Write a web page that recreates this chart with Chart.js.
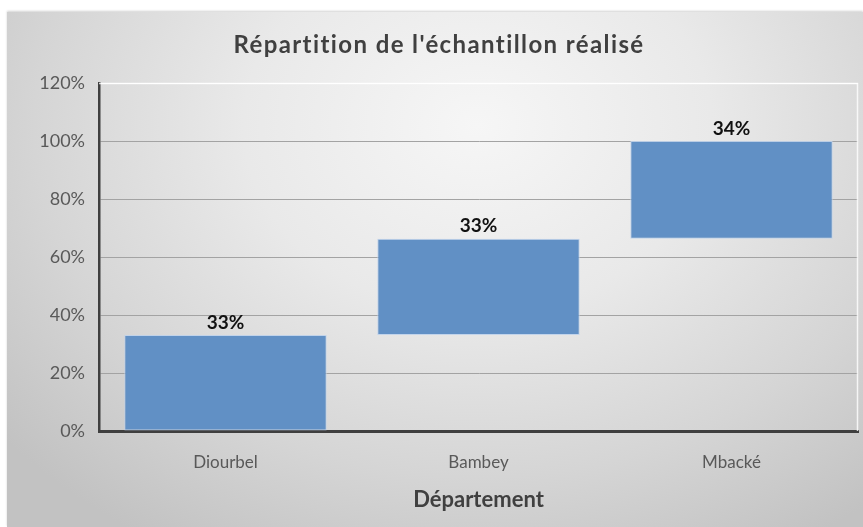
<!DOCTYPE html>
<html>
<head>
<meta charset="utf-8">
<script src="https://cdn.jsdelivr.net/npm/chart.js@4/dist/chart.umd.min.js"></script>
<style>
  html, body { margin: 0; padding: 0; background: #ffffff; width: 863px; height: 527px; overflow: hidden; }
  #wrap {
    position: absolute; left: 7px; top: 12px; width: 856px; height: 515px;
    background: radial-gradient(ellipse 72% 95% at 55% 22%, #f6f6f6 0%, #e9e9e9 38%, #d5d5d5 72%, #c2c2c2 100%);
    box-shadow: 0 -1px 2px rgba(0,0,0,0.18);
  }
  canvas { display: block; }
</style>
</head>
<body>
<div id="wrap"><canvas id="c" width="856" height="515"></canvas></div>
<script>
// Data
const categories = ["Diourbel", "Bambey", "Mbacké"];
const shares = [33.1, 33.2, 33.7];          // % of the sample per département
const yTicks = [0, 20, 40, 60, 80, 100, 120];
const chartTitle = "Répartition de l'échantillon réalisé";
const xTitle = "Département";

// Build floating (waterfall) ranges from the shares
const ranges = [];
let acc = 0;
for (const s of shares) { ranges.push([acc, acc + s]); acc += s; }

const FONT = "Lato, 'Open Sans', 'Liberation Sans', sans-serif";

const dataLabels = {
  id: 'dataLabels',
  afterDatasetsDraw(chart) {
    const ctx = chart.ctx;
    const meta = chart.getDatasetMeta(0);
    ctx.save();
    ctx.font = "bold 19px " + FONT;
    ctx.fillStyle = "#111111";
    ctx.textAlign = "center";
    ctx.textBaseline = "bottom";
    meta.data.forEach((bar, i) => {
      const top = Math.min(bar.y, bar.base);
      ctx.fillText(Math.round(shares[i]) + "%", bar.x, top - 3);
    });
    ctx.restore();
  }
};

const spacedTitle = {
  id: 'spacedTitle',
  afterDraw(chart) {
    const ctx = chart.ctx;
    ctx.save();
    ctx.font = "bold 24px " + FONT;
    ctx.fillStyle = "#404040";
    ctx.textAlign = "center";
    ctx.textBaseline = "middle";
    if ('letterSpacing' in ctx) ctx.letterSpacing = "1.4px";
    ctx.fillText(chartTitle, 432, 33);
    ctx.restore();
  }
};

const plotFrame = {
  id: 'plotFrame',
  beforeDatasetsDraw(chart) {
    const { ctx, chartArea: a } = chart;
    ctx.save();
    ctx.strokeStyle = "rgba(255,255,255,0.8)";
    ctx.lineWidth = 1.5;
    ctx.beginPath();
    ctx.moveTo(a.left, a.top + 0.5);
    ctx.lineTo(a.right - 0.5, a.top + 0.5);
    ctx.lineTo(a.right - 0.5, a.bottom);
    ctx.stroke();
    ctx.restore();
  }
};

new Chart(document.getElementById('c'), {
  type: 'bar',
  data: {
    labels: categories,
    datasets: [{
      data: ranges,
      backgroundColor: "#6190c5",
      borderColor: "rgba(190,210,235,0.9)",
      borderWidth: 1,
      borderSkipped: false,
      barPercentage: 0.8,
      categoryPercentage: 1.0
    }]
  },
  options: {
    responsive: false,
    animation: false,
    devicePixelRatio: 1,
    layout: { padding: { left: 0, right: 5, top: 71, bottom: 0 } },
    plugins: {
      legend: { display: false },
      tooltip: { enabled: false },
      title: { display: false }
    },
    scales: {
      x: {
        grid: { display: false, drawTicks: false },
        border: { display: true, color: "#3f3f3f", width: 3 },
        ticks: { color: "#595959", font: { family: FONT, size: 17 }, padding: 21 },
        title: {
          display: true, text: xTitle, color: "#404040",
          font: { family: FONT, size: 22, weight: 'bold' },
          padding: { top: 0, bottom: 14 }
        },
        afterFit(scale) { scale.height = 96; }
      },
      y: {
        min: 0, max: 120,
        afterBuildTicks(scale) { scale.ticks = yTicks.map(v => ({ value: v })); },
        grid: {
          drawTicks: false,
          color: (c) => c.tick && c.tick.value === 120 ? "rgba(255,255,255,0.9)" : "#a3a3a3",
          lineWidth: 1
        },
        border: { display: true, color: "#3f3f3f", width: 2.5 },
        ticks: {
          color: "#595959", font: { family: FONT, size: 18 }, padding: 14,
          callback: (v) => v + "%"
        },
        afterFit(scale) { scale.width = 92; }
      }
    }
  },
  plugins: [plotFrame, dataLabels, spacedTitle]
});
</script>
</body>
</html>
